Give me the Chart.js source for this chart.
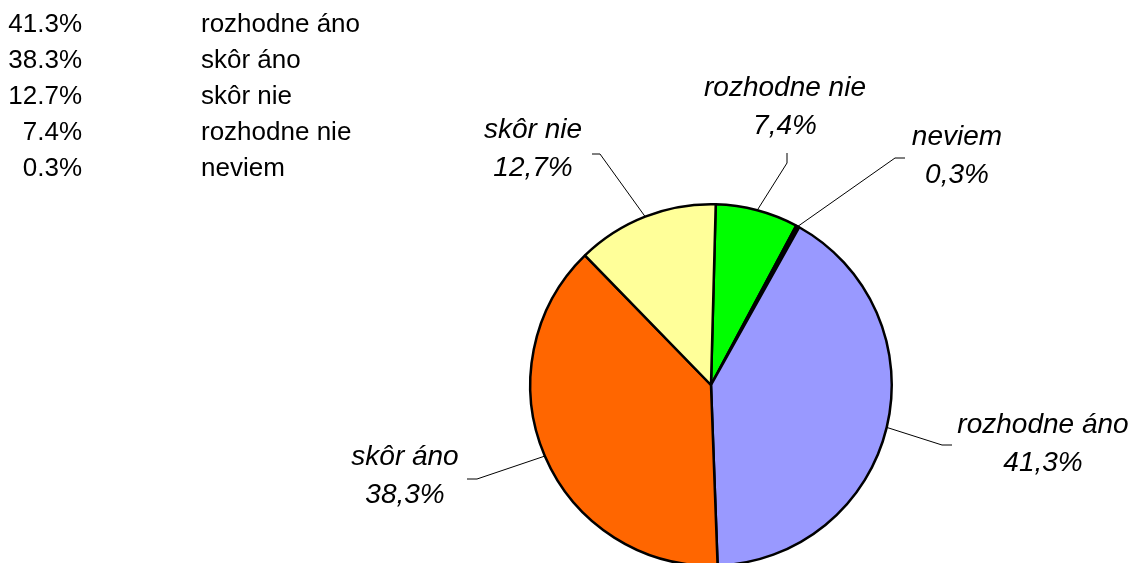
<!DOCTYPE html>
<html>
<head>
<meta charset="utf-8">
<script src="https://cdn.jsdelivr.net/npm/chart.js@4.4.1/dist/chart.umd.min.js"></script>
<style>
  html, body { margin: 0; padding: 0; background: #fff; overflow: hidden; }
  canvas { display: block; }
</style>
</head>
<body>
<canvas id="pie" width="1134" height="570"></canvas>
<script>
// slices, clockwise from the top
const categories = ['rozhodne nie', 'neviem', 'rozhodne áno', 'skôr áno', 'skôr nie'];
const shares = [7.4, 0.3, 41.3, 38.3, 12.7];

const sliceColors = ['#00FF00', '#000000', '#9999FF', '#FF6600', '#FFFF99'];

// where each callout sits, relative to the pie centre (px)
const calloutLayout = [
  { tx: 74,   ty: -289, elbow: [76, -222],  end: [76, -232] },
  { tx: 246,  ty: -240, elbow: [184, -227], end: [194, -227] },
  { tx: 332,  ty: 48,   elbow: [231, 60],   end: [241, 60] },
  { tx: -306, ty: 80,   elbow: [-234, 94],  end: [-244, 94] },
  { tx: -178, ty: -247, elbow: [-111, -231], end: [-119, -231] }
];

const fmtDot = v => v.toFixed(1) + '%';
const fmtComma = v => v.toFixed(1).replace('.', ',') + '%';

const calloutPlugin = {
  id: 'callouts',
  afterDatasetsDraw(chart) {
    const ctx = chart.ctx;
    const arcs = chart.getDatasetMeta(0).data;
    ctx.save();
    arcs.forEach((arc, i) => {
      const p = arc.getProps(['x', 'y', 'startAngle', 'endAngle', 'outerRadius'], true);
      const mid = (p.startAngle + p.endAngle) / 2;
      const lay = calloutLayout[i];
      const sx = p.x + Math.cos(mid) * p.outerRadius;
      const sy = p.y + Math.sin(mid) * p.outerRadius;

      ctx.strokeStyle = '#000';
      ctx.lineWidth = 1;
      ctx.beginPath();
      ctx.moveTo(sx, sy);
      ctx.lineTo(p.x + lay.elbow[0], p.y + lay.elbow[1]);
      ctx.lineTo(p.x + lay.end[0], p.y + lay.end[1]);
      ctx.stroke();

      ctx.fillStyle = '#000';
      ctx.font = 'italic 28px "Liberation Sans", Arial, sans-serif';
      ctx.textAlign = 'center';
      ctx.textBaseline = 'alphabetic';
      ctx.fillText(categories[i], p.x + lay.tx, p.y + lay.ty);
      ctx.fillText(fmtComma(shares[i]), p.x + lay.tx, p.y + lay.ty + 38);
    });
    ctx.restore();
  }
};

// the plain list in the top-left corner, largest share first
const listPlugin = {
  id: 'shareList',
  afterDraw(chart) {
    const ctx = chart.ctx;
    const order = shares.map((v, i) => i).sort((a, b) => shares[b] - shares[a]);
    ctx.save();
    ctx.fillStyle = '#000';
    ctx.font = '26px "Liberation Sans", Arial, sans-serif';
    ctx.textBaseline = 'alphabetic';
    order.forEach((idx, row) => {
      const y = 32 + row * 35.9;
      ctx.textAlign = 'right';
      ctx.fillText(fmtDot(shares[idx]), 82, y);
      ctx.textAlign = 'left';
      ctx.fillText(categories[idx], 201, y);
    });
    ctx.restore();
  }
};

new Chart(document.getElementById('pie'), {
  type: 'pie',
  data: {
    labels: categories,
    datasets: [{
      data: shares,
      backgroundColor: sliceColors,
      borderColor: '#000',
      borderWidth: 2.5
    }]
  },
  options: {
    responsive: false,
    animation: false,
    rotation: 1.5,
    layout: {
      padding: { left: 529, right: 241, top: 203, bottom: 3 }
    },
    plugins: {
      legend: { display: false },
      tooltip: { enabled: false }
    }
  },
  plugins: [calloutPlugin, listPlugin]
});
</script>
</body>
</html>
